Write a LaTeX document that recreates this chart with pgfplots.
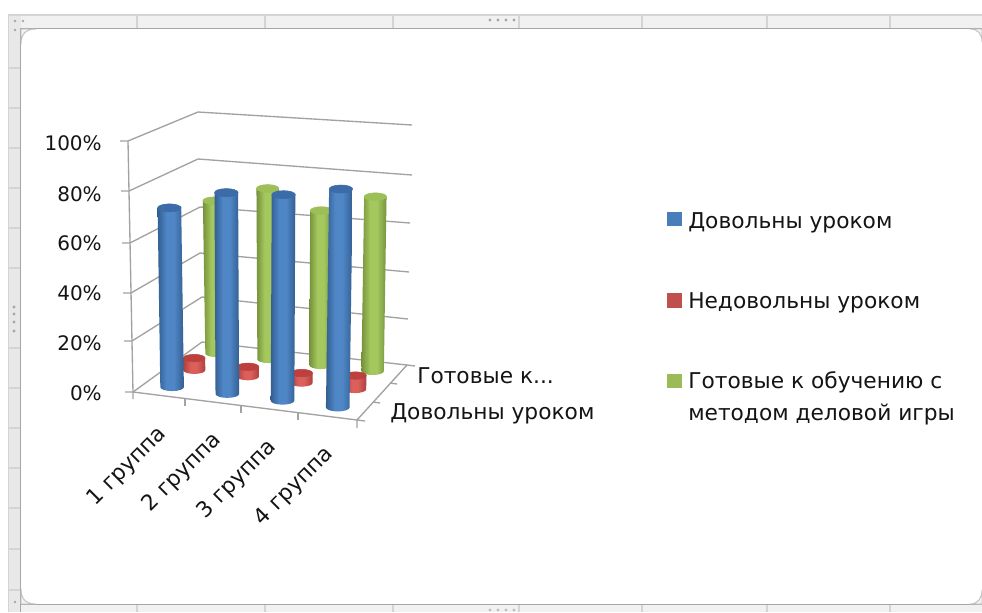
\documentclass[border=0pt]{standalone}
\usepackage{fontspec}
\setmainfont{DejaVu Sans}
\usepackage{pgfplots}
\usepackage{pgfplotstable}
\pgfplotsset{compat=1.18}

\definecolor{chromeline}{HTML}{A6A6A6}
\definecolor{chromesoft}{HTML}{D4D4D4}
\definecolor{chromefill}{HTML}{F1F1F1}
\definecolor{chromeside}{HTML}{E8E8E8}
\definecolor{gridgrey}{HTML}{A2A2A2}
\definecolor{inkgrey}{HTML}{141414}
\definecolor{serblue}{HTML}{4A7EBB}
\definecolor{serred}{HTML}{C0504D}
\definecolor{sergreen}{HTML}{9BBB59}
\definecolor{topblue}{HTML}{3C6CA8}
\definecolor{topred}{HTML}{BC403D}
\definecolor{topgreen}{HTML}{9CBF58}
\definecolor{bbe}{HTML}{335F92}\definecolor{bbm}{HTML}{4F86C6}
\definecolor{rre}{HTML}{AC403D}\definecolor{rrm}{HTML}{DB5F5B}
\definecolor{gge}{HTML}{76923A}\definecolor{ggm}{HTML}{A4C75E}

\pgfdeclarehorizontalshading{cylblue}{100bp}{color(0bp)=(bbe); color(25bp)=(bbe); color(42bp)=(bbm); color(56bp)=(bbm); color(75bp)=(bbe); color(100bp)=(bbe)}
\pgfdeclarehorizontalshading{cylred}{100bp}{color(0bp)=(rre); color(25bp)=(rre); color(42bp)=(rrm); color(56bp)=(rrm); color(75bp)=(rre); color(100bp)=(rre)}
\pgfdeclarehorizontalshading{cylgreen}{100bp}{color(0bp)=(gge); color(25bp)=(gge); color(42bp)=(ggm); color(56bp)=(ggm); color(75bp)=(gge); color(100bp)=(gge)}

\newcommand{\numfont}{\fontsize{15}{15}\selectfont}
\newcommand{\labfont}{\fontsize{16.3}{16.3}\selectfont}
\tikzset{
  lab/.style={font=\labfont,text=inkgrey,inner sep=0pt},
  num/.style={font=\numfont,text=inkgrey,inner sep=0pt},
}

% Percentages per group, one table for each series
\pgfplotstableread{
group value
1 72
2 80
3 81
4 85
}\satisfied
\pgfplotstableread{
group value
1 5
2 4
3 4
4 5.5
}\unsatisfied
\pgfplotstableread{
group value
1 65
2 72
3 64.5
4 72
}\ready

% Outline of a unit cylinder: c, s on the end ellipse, w = 0 at the base, 1 at the top
\pgfplotstableread{
c s w
-1 0 0
-0.924 0.383 0
-0.707 0.707 0
-0.383 0.924 0
0 1 0
0.383 0.924 0
0.707 0.707 0
0.924 0.383 0
1 0 0
1 0 1
-1 0 1
}\unitbody
\pgfplotstableread{
c s w
-1 0 1
-0.924 0.383 1
-0.707 0.707 1
-0.383 0.924 1
0 1 1
0.383 0.924 1
0.707 0.707 1
0.924 0.383 1
1 0 1
0.924 -0.383 1
0.707 -0.707 1
0.383 -0.924 1
0 -1 1
-0.383 -0.924 1
-0.707 -0.707 1
-0.924 -0.383 1
-1 0 1
}\unittop

% One row of cylinders: table, depth on the floor (0 front, 1 back), radius, shading, top colour.
% The floor corners and wall heights below give the perspective of the box.
\newcommand{\cylinderseries}[5]{%
  \pgfplotsforeachungrouped \rowidx in {0,1,2,3}{%
    \pgfplotstablegetelem{\rowidx}{value}\of{#1}%
    \let\val\pgfplotsretval
    \pgfmathsetmacro\uu{(\rowidx+0.5)/4}%
    \pgfmathsetmacro\vv{#2}%
    \pgfmathsetmacro\bx{(1-\vv)*(133+224*\uu)+\vv*(202+205*\uu)}%
    \pgfmathsetmacro\by{(1-\vv)*(392+28*\uu)+\vv*(342+23*\uu)}%
    \pgfmathsetmacro\hh{(1-\vv)*(251+11*\uu)+\vv*(230+10*\uu)}%
    \pgfmathsetmacro\tx{\bx+(-5+10*\uu)*(\val/100)}%
    \pgfmathsetmacro\ty{\by-\hh*(\val/100)}%
    \addplot[draw=none,shading=#4] table[
      x expr={\bx+(\tx-\bx)*\thisrow{w}+#3*\thisrow{c}},
      y expr={\by+(\ty-\by)*\thisrow{w}+0.34*#3*\thisrow{s}}]{\unitbody};
    \addplot[draw=#5,line width=0.4pt,fill=#5] table[
      x expr={\bx+(\tx-\bx)*\thisrow{w}+#3*\thisrow{c}},
      y expr={\by+(\ty-\by)*\thisrow{w}+0.34*#3*\thisrow{s}}]{\unittop};
  }%
}

\begin{document}
\begin{tikzpicture}
\begin{axis}[
  scale only axis, width=736.5pt, height=459pt,
  xmin=0, xmax=982, ymin=0, ymax=612, y dir=reverse,
  hide axis, clip=true,
  every axis plot/.append style={line width=1pt},
]
% window chrome around the chart area
\fill[white] (axis cs:0,0) rectangle (axis cs:982,612);
\fill[chromefill] (axis cs:8,14) rectangle (axis cs:982,612);
\fill[chromeside] (axis cs:8,14) rectangle (axis cs:21,612);
\fill[white] (axis cs:21,29) rectangle (axis cs:982,604);
\draw[chromesoft,line width=1.2pt] (axis cs:8.5,612) -- (axis cs:8.5,15) -- (axis cs:982,15);
\draw[chromeline,line width=1.2pt] (axis cs:20.5,612) -- (axis cs:20.5,28.5) -- (axis cs:982,28.5);
\draw[chromeline,line width=1.2pt] (axis cs:20.5,604.5) -- (axis cs:982,604.5);
\pgfplotsinvokeforeach{137,265,393,519,642,767,890}{
  \draw[chromesoft,line width=0.8pt] (axis cs:#1,14) -- (axis cs:#1,28);
  \draw[chromesoft,line width=0.8pt] (axis cs:#1,605) -- (axis cs:#1,612);
}
\pgfplotsinvokeforeach{68,108,148,188,228,268,348,388,428,468,508,549,590}{
  \draw[chromesoft,line width=0.8pt] (axis cs:9,#1) -- (axis cs:20,#1);
}
% rounded corners of the chart area
\filldraw[draw=chromeline!70,fill=chromefill,line width=0.7pt] (axis cs:21,44) .. controls (axis cs:21,34) and (axis cs:26,29) .. (axis cs:36,29) -- (axis cs:21,29) -- cycle;
\filldraw[draw=chromeline!70,fill=chromefill,line width=0.7pt] (axis cs:21,589) .. controls (axis cs:21,599) and (axis cs:26,604) .. (axis cs:36,604) -- (axis cs:21,604) -- cycle;
\filldraw[draw=chromeline!70,fill=chromefill,line width=0.7pt] (axis cs:982,42) .. controls (axis cs:982,34) and (axis cs:978,29) .. (axis cs:970,29) -- (axis cs:982,29) -- cycle;
\filldraw[draw=chromeline!70,fill=chromefill,line width=0.7pt] (axis cs:982,590) .. controls (axis cs:982,598) and (axis cs:978,604) .. (axis cs:970,604) -- (axis cs:982,604) -- cycle;
% drag handles
\pgfplotsinvokeforeach{490,498,506,514}{\fill[gray!70] (axis cs:#1,20) circle (1.2pt);}
\pgfplotsinvokeforeach{307,314,322,331}{\fill[gray!70] (axis cs:14,#1) circle (1.2pt);}
\pgfplotsinvokeforeach{490,498,506,514}{\fill[gray!50] (axis cs:#1,610) circle (1.2pt);}
\pgfplotsinvokeforeach{15,23}{\fill[gray!70] (axis cs:#1,21) circle (1pt);}
\fill[gray!70] (axis cs:15,30) circle (1pt);
\fill[gray!70] (axis cs:15,602) circle (1pt);

% walls of the box, gridlines from 100% down to 0%
\addplot[gridgrey,no markers] coordinates {(120,141)(128,141)(198,112)(412,125)};
\addplot[gridgrey,no markers] coordinates {(121,191)(129,191)(198,159)(412,175)};
\addplot[gridgrey,no markers] coordinates {(122,243)(130,243)(200,207)(410,223)};
\addplot[gridgrey,no markers] coordinates {(123,293)(131,293)(200,253)(409,272)};
\addplot[gridgrey,no markers] coordinates {(124,341)(132,341)(202,297)(408,319)};
\addplot[gridgrey,no markers] coordinates {(125,392)(133,392)(202,342)(407,365)};
% vertical axis and floor edges with their ticks
\addplot[gridgrey,no markers] coordinates {(128,141)(133,392)(133,399)};
\addplot[gridgrey,no markers] coordinates {(133,392)(357,420)(357,428)};
\addplot[gridgrey,no markers] coordinates {(357,420)(407,365)(415,366)};
\addplot[gridgrey,no markers] coordinates {(185,398)(185,406)};
\addplot[gridgrey,no markers] coordinates {(241,405)(241,413)};
\addplot[gridgrey,no markers] coordinates {(298,412)(298,420)};
\addplot[gridgrey,no markers] coordinates {(357,420)(365,421)};
\addplot[gridgrey,no markers] coordinates {(373,402)(380,403)};
\addplot[gridgrey,no markers] coordinates {(390,383)(397,384)};

% cylinders, back row first
\cylinderseries{\ready}{0.8333}{11.2}{cylgreen}{topgreen}
\cylinderseries{\unsatisfied}{0.5}{11}{cylred}{topred}
\cylinderseries{\satisfied}{0.1667}{11.8}{cylblue}{topblue}

% axis texts
\node[num,anchor=base east] at (axis cs:102,150) {100\%};
\node[num,anchor=base east] at (axis cs:102,201) {80\%};
\node[num,anchor=base east] at (axis cs:102,250) {60\%};
\node[num,anchor=base east] at (axis cs:102,300) {40\%};
\node[num,anchor=base east] at (axis cs:102,350) {20\%};
\node[num,anchor=base east] at (axis cs:102,400) {0\%};
\node[lab,rotate=45,anchor=east] at (axis cs:163,431) {1 группа};
\node[lab,rotate=45,anchor=east] at (axis cs:218,437) {2 группа};
\node[lab,rotate=45,anchor=east] at (axis cs:273,444) {3 группа};
\node[lab,rotate=45,anchor=east] at (axis cs:330,451) {4 группа};
\node[lab,anchor=base west] at (axis cs:417,383) {Готовые к...};
\node[lab,anchor=base west] at (axis cs:390,419) {Довольны уроком};

% legend
\addplot[only marks,color=serblue,mark=square*,mark size=5.2pt,line width=0pt] coordinates {(674.5,219)};
\addplot[only marks,color=serred,mark=square*,mark size=5.2pt,line width=0pt] coordinates {(674.5,300.5)};
\addplot[only marks,color=sergreen,mark=square*,mark size=5.2pt,line width=0pt] coordinates {(674.5,381)};
\node[lab,anchor=base west] at (axis cs:688,228) {Довольны уроком};
\node[lab,anchor=base west] at (axis cs:688,308) {Недовольны уроком};
\node[lab,anchor=base west] at (axis cs:688,388) {Готовые к обучению с};
\node[lab,anchor=base west] at (axis cs:688,420) {методом деловой игры};
\end{axis}
\end{tikzpicture}
\end{document}
